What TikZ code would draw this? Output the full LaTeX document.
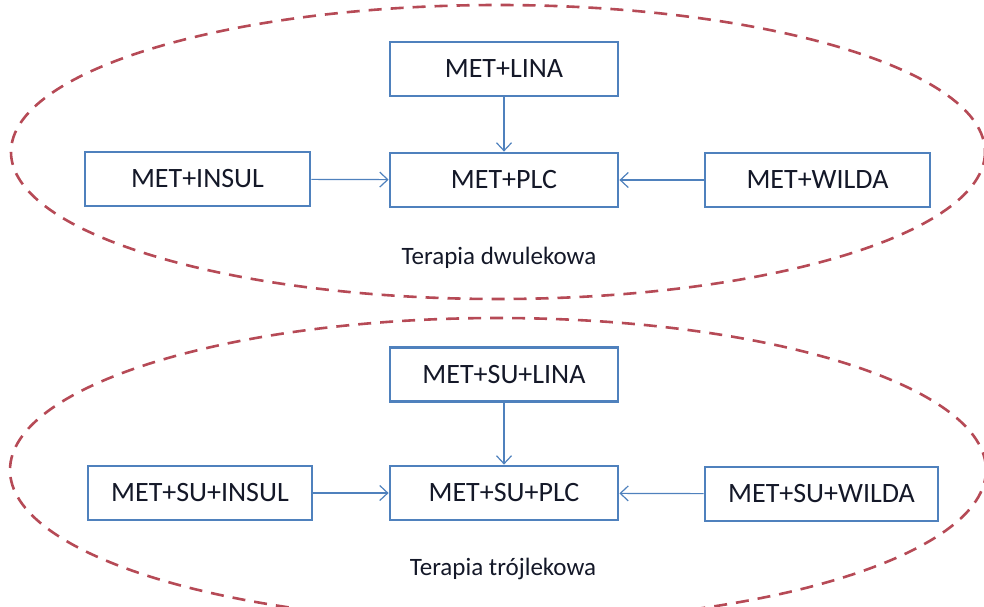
\documentclass[tikz,border=0pt]{standalone}
\usepackage{fontspec}
\setmainfont{Carlito}
\usetikzlibrary{arrows.meta}
\definecolor{boxblue}{RGB}{79,129,189}
\definecolor{ringred}{RGB}{182,74,86}
\definecolor{txt}{RGB}{20,24,40}
\begin{document}
\begin{tikzpicture}[
  x=1pt, y=-1pt,
  box/.style={draw=boxblue, line width=2.8pt, fill=white, minimum width=228pt,
              minimum height=54pt, font=\fontsize{28}{31}\selectfont, text=txt, inner sep=2pt},
  arr/.style={-{Straight Barb[length=8pt,width=15pt]}, boxblue, line width=1.2pt},
  ring/.style={draw=ringred, line width=2.6pt, dash pattern=on 13pt off 9pt},
  lab/.style={font=\fontsize{25}{28}\selectfont, text=txt}
]
\useasboundingbox (0,0) rectangle (984,606);

% two-drug therapy
\draw[ring] (498,152) ellipse [x radius=487, y radius=147];
\node[box] (lina) at (504,69)  {MET+LINA};
\node[box] (plc)  at (504,180) {MET+PLC};
\node[box, minimum width=225pt] (insul) at (197.5,179) {MET+INSUL};
\node[box, minimum width=225pt] (wilda) at (817.5,180) {MET+WILDA};
\node[lab] (two) at (499,258) {Terapia dwulekowa};

\draw[arr] (lina) -- (plc);
\draw[arr] (insul) -- (plc);
\draw[arr] (wilda) -- (plc);

% three-drug therapy
\draw[ring] (498,470) ellipse [x radius=488, y radius=152];
\node[box] (sulina) at (504,374.5) {MET+SU+LINA};
\node[box] (suplc)  at (504,493)   {MET+SU+PLC};
\node[box, minimum width=224pt] (suinsul) at (200,493)   {MET+SU+INSUL};
\node[box, minimum width=233pt] (suwilda) at (821.5,494) {MET+SU+WILDA};
\node[lab] (three) at (503,569) {Terapia trójlekowa};

\draw[arr] (sulina) -- (suplc);
\draw[arr] (suinsul) -- (suplc);
\draw[arr] (suwilda) -- (suplc);

\end{tikzpicture}
\end{document}
